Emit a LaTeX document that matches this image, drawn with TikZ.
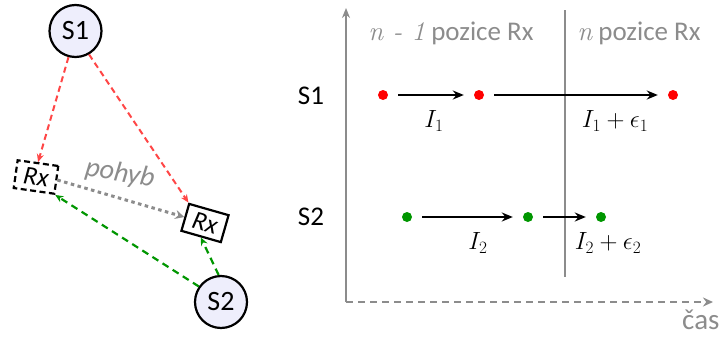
\documentclass[tikz,border=0pt]{standalone}
\usepackage{fontspec}
\setsansfont{Carlito}
\usetikzlibrary{arrows.meta}
\definecolor{sred}{RGB}{255,70,70}
\definecolor{sgreen}{RGB}{0,150,0}
\definecolor{sgray}{RGB}{140,140,140}
\definecolor{sfill}{RGB}{238,238,252}
\tikzset{
  station/.style={circle,draw=black,line width=2.2pt,fill=sfill,minimum size=52pt,inner sep=0pt,font=\sffamily\fontsize{28}{28}\selectfont},
  rxbox/.style={draw=black,line width=2.2pt,minimum width=41pt,minimum height=28pt,inner sep=0pt,font=\sffamily\itshape\fontsize{26}{26}\selectfont},
  redarr/.style={draw=sred,line width=2pt,dash pattern=on 6pt off 4pt,-{Stealth[length=8pt,width=7pt]}},
  greenarr/.style={draw=sgreen,line width=2.2pt,dash pattern=on 7pt off 5pt,-{Stealth[length=8pt,width=7pt]}},
  grayarr/.style={draw=sgray,line width=3pt,dash pattern=on 3.5pt off 3.5pt,-{Stealth[length=9pt,width=9pt]}},
  axis/.style={draw=sgray,line width=2.2pt},
  lbl/.style={font=\sffamily\fontsize{27}{27}\selectfont},
  glbl/.style={text=sgray,font=\sffamily\fontsize{27}{27}\selectfont},
  mlbl/.style={font=\fontsize{27}{27}\selectfont},
  rdot/.style={circle,fill=red,inner sep=0pt,minimum size=10pt},
  gdot/.style={circle,fill=sgreen,inner sep=0pt,minimum size=10pt},
  tarr/.style={draw=black,line width=2.2pt,-{Stealth[length=11pt,width=9pt]}}
}
\begin{document}
\begin{tikzpicture}[x=1pt,y=-1pt]
\useasboundingbox (0,0) rectangle (722,340);
% left part
\node[station] (s1) at (75.5,31) {S1};
\node[station] (s2) at (221,302) {S2};
\node[rxbox,dash pattern=on 6pt off 3.5pt,rotate=-8,minimum width=41pt,minimum height=28pt] (rx0) at (36,177) {Rx};
\node[rxbox,rotate=-16] (rx1) at (205,223) {Rx};
\draw[redarr] (s1.255) -- (rx0.north);
\draw[redarr] (s1.300) -- (rx1.north west);
\draw[grayarr] (rx0.east) -- (rx1.west);
\node[text=sgray,font=\sffamily\itshape\fontsize{28}{28}\selectfont,rotate=-10] (pohyb) at (120,174) {pohyb};
\draw[greenarr] (s2.145) -- (rx0.south east);
\draw[greenarr] (s2.95) -- (rx1.south);
% right part
\coordinate (o) at (346,302);
\coordinate (ytop) at (346,8);
\coordinate (xend) at (713,302);
\draw[axis,-{Stealth[length=10pt,width=8pt]}] (o) -- (ytop);
\draw[axis,dash pattern=on 7pt off 5pt,-{Stealth[length=10pt,width=9pt]}] (o) -- (xend);
\coordinate (dtop) at (565,10);
\coordinate (dbot) at (565,277);
\draw[axis] (dtop) -- (dbot);
\node[glbl,anchor=north east,font=\sffamily\fontsize{29}{29}\selectfont] (cas) at (723,306) {čas};
\node[glbl] (h1) at (451,33) {{\rmfamily\itshape n - 1} pozice Rx};
\node[glbl] (h2) at (639,33) {{\rmfamily\itshape n} pozice Rx};
\node[lbl] (l1) at (311,96) {S1};
\node[lbl] (l2) at (311,217) {S2};
\node[rdot] (r1) at (383,95) {};
\node[rdot] (r2) at (479,95) {};
\node[rdot] (r3) at (673,95) {};
\draw[tarr] ([xshift=10pt]r1.east) -- ([xshift=-10pt]r2.west);
\draw[tarr] ([xshift=10pt]r2.east) -- ([xshift=-10pt]r3.west);
\node[mlbl] (i1) at (434,121) {$I_1$};
\node[mlbl] (i1e) at (615,121) {$I_1 + \epsilon_1$};
\node[gdot] (g1) at (407,217) {};
\node[gdot] (g2) at (528,217) {};
\node[gdot] (g3) at (601,217) {};
\draw[tarr] ([xshift=10pt]g1.east) -- ([xshift=-10pt]g2.west);
\draw[tarr] ([xshift=10pt]g2.east) -- ([xshift=-10pt]g3.west);
\node[mlbl] (i2) at (478,243) {$I_2$};
\node[mlbl] (i2e) at (608,243) {$I_2 + \epsilon_2$};
\end{tikzpicture}
\end{document}
